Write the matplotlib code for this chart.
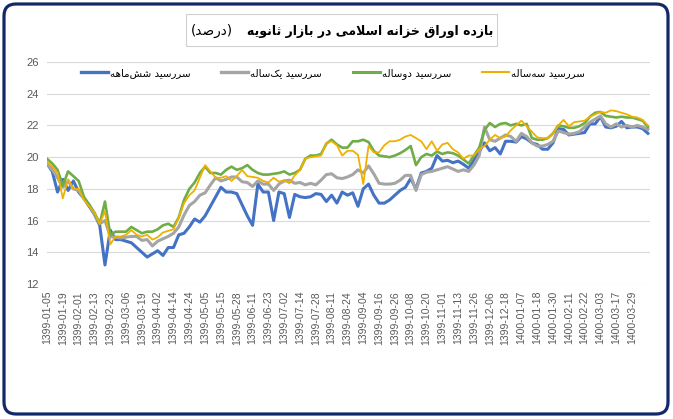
import numpy as np
import matplotlib
matplotlib.use("Agg")
import matplotlib.pyplot as plt
from matplotlib.patches import FancyBboxPatch, Rectangle
from matplotlib.transforms import IdentityTransform

# ------------------------------------------
# Data (yield, percent)
# ------------------------------------------

tick_labels = [
    "1399-01-05", "1399-01-19", "1399-02-01", "1399-02-13", "1399-02-23",
    "1399-03-06", "1399-03-19", "1399-04-02", "1399-04-14", "1399-04-24",
    "1399-05-05", "1399-05-15", "1399-05-28", "1399-06-11", "1399-06-23",
    "1399-07-02", "1399-07-14", "1399-07-28", "1399-08-11", "1399-08-24",
    "1399-09-04", "1399-09-16", "1399-09-26", "1399-10-08", "1399-10-20",
    "1399-11-01", "1399-11-13", "1399-11-26", "1399-12-06", "1399-12-18",
    "1400-01-07", "1400-01-18", "1400-01-30", "1400-02-11", "1400-02-22",
    "1400-03-03", "1400-03-17", "1400-03-29",
]

six_month = [
    19.6, 19.1, 17.8, 18.6, 17.9, 18.5, 17.8, 17.4, 16.9, 16.4,
    15.7, 13.2, 15.4, 14.8, 14.8, 14.7, 14.6, 14.3, 14.0, 13.7,
    13.9, 14.1, 13.8, 14.3, 14.3, 15.1, 15.2, 15.6, 16.1, 15.9,
    16.3, 16.9, 17.5, 18.1, 17.8, 17.8, 17.7, 17.0, 16.3, 15.7,
    18.3, 17.8, 17.8, 16.0, 17.8, 17.7, 16.2, 17.65, 17.5, 17.45,
    17.5, 17.7, 17.65, 17.2, 17.6, 17.1, 17.8, 17.6, 17.75, 16.9,
    18.0, 18.3, 17.6, 17.1, 17.1, 17.3, 17.6, 17.9, 18.1, 18.65,
    18.0, 19.0, 19.1, 19.3, 20.1, 19.75, 19.8, 19.65, 19.75, 19.55,
    19.3, 19.8, 20.35, 20.9, 20.4, 20.6, 20.2, 21.0, 21.0, 20.95,
    21.3, 21.15, 20.9, 20.8, 20.5, 20.5, 20.9, 21.8, 21.75, 21.4,
    21.45, 21.5, 21.55, 22.1, 22.1, 22.55, 21.9, 21.85, 21.95, 22.25,
    21.85, 21.9, 21.9, 21.8, 21.5,
]

one_year = [
    19.6, 19.2, 18.7, 18.1, 18.5, 18.0, 17.9, 17.4, 17.0, 16.4,
    15.8, 16.0, 15.0, 14.95, 14.9, 14.95, 15.0, 15.0, 14.75, 14.8,
    14.4, 14.7, 14.85, 15.0, 15.2, 15.6, 16.35, 16.95, 17.2, 17.6,
    17.75, 18.25, 18.7, 18.5, 18.6, 18.75, 18.75, 18.45, 18.4, 18.15,
    18.5, 18.3, 18.3, 17.9, 18.3, 18.5, 18.55, 18.35, 18.4, 18.25,
    18.35, 18.25, 18.55, 18.9, 18.95, 18.7, 18.65, 18.75, 18.9, 19.2,
    19.0, 19.45, 18.95, 18.35, 18.3, 18.3, 18.35, 18.55, 18.85, 18.85,
    17.9, 18.9, 19.05, 19.1, 19.2, 19.3, 19.4, 19.25, 19.1, 19.2,
    19.1, 19.5, 20.1, 21.9, 21.1, 21.0, 21.2, 21.4, 21.3, 21.0,
    21.5, 21.3, 20.9, 20.7, 20.7, 20.8, 21.0, 21.65, 21.55, 21.45,
    21.5, 21.6, 21.9, 22.2, 22.4, 22.6, 22.1, 21.9, 22.1, 21.9,
    22.0, 21.9, 22.0, 21.9, 21.75,
]

two_year = [
    19.9, 19.6, 19.2, 18.2, 19.1, 18.8, 18.5, 17.5, 17.0, 16.5,
    15.8, 17.2, 15.1, 15.3, 15.3, 15.3, 15.6, 15.4, 15.2, 15.3,
    15.3, 15.45, 15.7, 15.8, 15.6, 16.2, 17.3, 18.0, 18.4, 19.0,
    19.4, 19.0, 19.0, 18.9, 19.2, 19.4, 19.2, 19.3, 19.5, 19.2,
    19.0, 18.9, 18.9, 18.95, 19.0, 19.1, 18.9, 19.0, 19.2, 19.9,
    20.1, 20.1, 20.2, 20.85, 21.1, 20.8, 20.6, 20.6, 21.0, 21.0,
    21.1, 20.95, 20.4, 20.1, 20.05, 20.0, 20.1, 20.25, 20.45, 20.7,
    19.5, 20.0, 20.2, 20.1, 20.35, 20.2, 20.3, 20.25, 20.1, 19.85,
    19.6, 20.1, 20.6, 21.7, 22.15, 21.9, 22.1, 22.15, 22.0, 22.1,
    22.0, 22.1, 21.2, 21.1, 21.1, 21.2, 21.5, 22.0, 21.95, 21.85,
    21.85, 21.95, 22.15, 22.55, 22.8, 22.85, 22.6, 22.55, 22.5, 22.55,
    22.5, 22.5, 22.4, 22.3, 21.9,
]

three_year = [
    19.7, 19.4, 19.0, 17.4, 18.6, 18.0, 18.0, 17.3, 16.9, 16.5,
    15.8, 16.6, 14.5, 15.0, 15.0, 15.1, 15.4, 15.1, 15.0, 15.1,
    14.8, 14.95, 15.25, 15.35, 15.45, 16.2, 17.1, 17.6, 17.9, 18.7,
    19.5, 19.1, 18.7, 18.7, 18.8, 18.5, 18.8, 19.2, 18.8, 18.75,
    18.7, 18.5, 18.4, 18.7, 18.45, 18.55, 18.35, 18.85, 19.2, 19.9,
    20.0, 20.05, 20.1, 20.9, 21.0, 20.75, 20.1, 20.4, 20.4, 20.15,
    18.3, 20.7, 20.3, 20.3, 20.75, 21.0, 21.0, 21.1, 21.3, 21.4,
    21.2, 21.0, 20.5, 21.0, 20.4, 20.8, 20.9, 20.5, 20.3, 19.9,
    20.1, 20.1, 20.5, 20.7, 21.1, 21.4, 21.2, 21.3, 21.7, 22.0,
    22.3, 21.95, 21.6, 21.25, 21.2, 21.2, 21.5, 22.0, 22.35, 21.95,
    22.2, 22.25, 22.3, 22.55, 22.7, 22.85, 22.8, 22.95, 22.9, 22.8,
    22.7, 22.55, 22.5, 22.35, 22.0,
]

series_names = ["سررسید شش‌ماهه", "سررسید یک‌ساله", "سررسید دوساله", "سررسید سه‌ساله"]
title_main = "بازده اوراق خزانه اسلامی در بازار ثانویه"
title_unit = "(درصد)"

# ------------------------------------------
# Simple Arabic/Persian shaping (matplotlib has no RTL layout)
# ------------------------------------------

FORMS = {
    "ا": ("\uFE8D", "\uFE8E", None, None),
    "ب": ("\uFE8F", "\uFE90", "\uFE91", "\uFE92"),
    "ت": ("\uFE95", "\uFE96", "\uFE97", "\uFE98"),
    "ث": ("\uFE99", "\uFE9A", "\uFE9B", "\uFE9C"),
    "خ": ("\uFEA5", "\uFEA6", "\uFEA7", "\uFEA8"),
    "د": ("\uFEA9", "\uFEAA", None, None),
    "ر": ("\uFEAD", "\uFEAE", None, None),
    "ز": ("\uFEAF", "\uFEB0", None, None),
    "س": ("\uFEB1", "\uFEB2", "\uFEB3", "\uFEB4"),
    "ش": ("\uFEB5", "\uFEB6", "\uFEB7", "\uFEB8"),
    "ص": ("\uFEB9", "\uFEBA", "\uFEBB", "\uFEBC"),
    "ق": ("\uFED5", "\uFED6", "\uFED7", "\uFED8"),
    "ل": ("\uFEDD", "\uFEDE", "\uFEDF", "\uFEE0"),
    "م": ("\uFEE1", "\uFEE2", "\uFEE3", "\uFEE4"),
    "ن": ("\uFEE5", "\uFEE6", "\uFEE7", "\uFEE8"),
    "ه": ("\uFEE9", "\uFEEA", "\uFEEB", "\uFEEC"),
    "و": ("\uFEED", "\uFEEE", None, None),
    "ی": ("\uFBFC", "\uFBFD", "\uFBFE", "\uFBFF"),
    "ک": ("\uFB8E", "\uFB8F", "\uFB90", "\uFB91"),
}
MIRROR = {"(": ")", ")": "("}


def shape(text):
    out = []
    i = 0
    n = len(text)
    while i < n:
        c = text[i]
        if c not in FORMS:
            if c != "\u200c":
                out.append(c)
            i += 1
            continue
        prev = text[i - 1] if i > 0 else ""
        joins_prev = prev in FORMS and FORMS[prev][2] is not None
        if c == "ل" and i + 1 < n and text[i + 1] == "ا":
            out.append("\uFEFC" if joins_prev else "\uFEFB")
            i += 2
            continue
        joins_next = FORMS[c][2] is not None and i + 1 < n and text[i + 1] in FORMS
        if joins_prev and joins_next:
            out.append(FORMS[c][3])
        elif joins_prev:
            out.append(FORMS[c][1])
        elif joins_next:
            out.append(FORMS[c][2])
        else:
            out.append(FORMS[c][0])
        i += 1
    return "".join(MIRROR.get(ch, ch) for ch in reversed(out))


# ------------------------------------------
# Plot
# ------------------------------------------

plt.rcParams["font.family"] = ["DejaVu Sans"]

fig = plt.figure(figsize=(6.73, 4.19), dpi=100)
ax = fig.add_axes([47 / 673, 1 - 284 / 419, 603 / 673, 222 / 419])

x = np.arange(len(six_month))
colors = ["#4472C4", "#A5A5A5", "#70AD47", "#F0B000"]
widths = [2.2, 2.2, 1.9, 1.3]
for values, name, color, lw in zip(
    [six_month, one_year, two_year, three_year], series_names, colors, widths
):
    ax.plot(x, values, color=color, lw=lw, label=shape(name),
            solid_joinstyle="round")

ax.set_xlim(0, 114.4)
ax.set_ylim(12, 26)
ax.set_yticks(range(12, 27, 2))
ax.set_xticks(np.arange(0, 3 * len(tick_labels), 3))
ax.set_xticklabels(tick_labels, rotation=90, family="Liberation Sans",
                   fontsize=7.5, color="#595959")
for lab in ax.get_yticklabels():
    lab.set_family("Liberation Sans")
    lab.set_fontsize(8)
    lab.set_color("#595959")
ax.tick_params(length=0)
ax.tick_params(axis="y", pad=6)
ax.tick_params(axis="x", pad=5)
ax.grid(axis="y", color="#D9D9D9", lw=0.8)
ax.set_axisbelow(True)
for s in ax.spines.values():
    s.set_visible(False)

leg = ax.legend(loc="center", bbox_to_anchor=(0.474, 0.95), ncol=4,
                frameon=False, fontsize=7.4, handlelength=2.6,
                handletextpad=0.2, columnspacing=3.0)
for line, lw in zip(leg.get_lines(), [2.4, 2.4, 2.2, 1.5]):
    line.set_linewidth(lw)

# title box
fig.add_artist(Rectangle((186, 419 - 46), 311, 32, transform=IdentityTransform(),
                         fill=False, edgecolor="#D0D0D0", lw=0.8))
fig.text(493 / 673, 1 - 31 / 419, shape(title_main), ha="right", va="center",
         fontsize=9.0, fontweight="bold", color="black")
fig.text(191 / 673, 1 - 31 / 419, shape(title_unit), ha="left", va="center",
         fontsize=9.8, color="black")

# outer rounded frame
fig.add_artist(FancyBboxPatch((4, 5), 664, 410, transform=IdentityTransform(),
                              boxstyle="round,pad=0,rounding_size=12",
                              fill=False, edgecolor="#13286B", lw=2.3))

fig.savefig("out.png", dpi=100)
